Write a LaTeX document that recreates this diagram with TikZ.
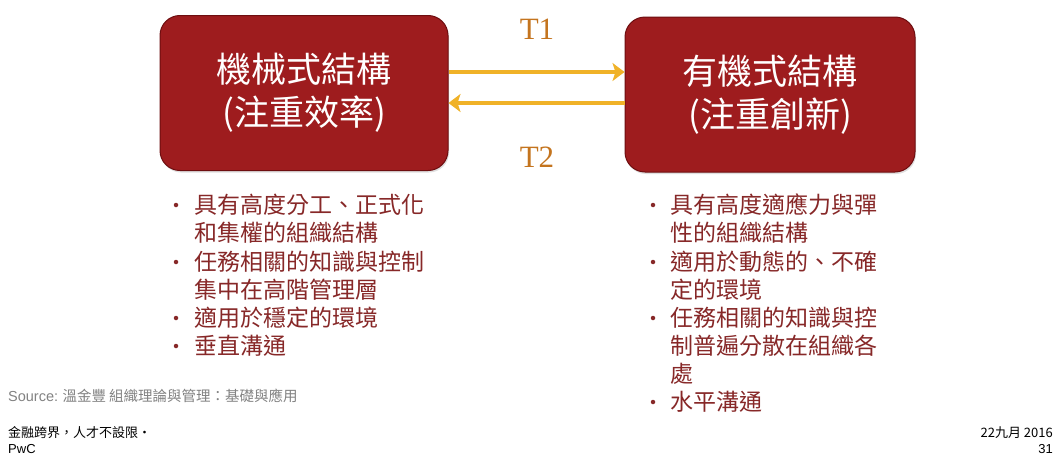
\documentclass[tikz,border=0pt]{standalone}
\usepackage{fontspec}
\setmainfont{Liberation Serif}
\newfontfamily\cjk{Noto Sans CJK TC}
\newfontfamily\sansf{Liberation Sans}
\usetikzlibrary{arrows.meta,shadows}
\definecolor{boxred}{RGB}{158,28,30}
\definecolor{boxedge}{RGB}{110,14,16}
\definecolor{arrowgold}{RGB}{240,178,40}
\definecolor{tcol}{RGB}{196,116,30}
\definecolor{txtred}{RGB}{135,40,40}
\definecolor{srcgray}{RGB}{130,130,130}
\tikzset{
  bigbox/.style={rounded corners=20pt,fill=boxred,draw=boxedge,line width=1pt,
    minimum width=#1,minimum height=155pt,inner sep=0pt,
    drop shadow={opacity=0.25,shadow xshift=1pt,shadow yshift=-2pt}},
  boxtxt/.style={text=white,font=\cjk\fontsize{35}{43}\selectfont,align=center},
  arr/.style={draw=arrowgold,line width=4.5pt,-{Stealth[length=12pt,width=18pt,inset=3pt]}},
  tlab/.style={text=tcol,font=\fontsize{31}{31}\selectfont},
  item/.style={anchor=west,text=txtred,font=\cjk\fontsize{23}{28}\selectfont,inner sep=0pt},
  dot/.style={circle,fill=txtred,inner sep=0pt,minimum size=4.5pt},
  foot/.style={anchor=west,inner sep=0pt,font=\cjk\fontsize{13}{15}\selectfont}
}
\begin{document}
\begin{tikzpicture}[x=1pt,y=-1pt]
\useasboundingbox[fill=white] (0,0) rectangle (1062,455);
\node[bigbox=288pt] (A) at (304,93) {};
\node[bigbox=290pt] (B) at (770,94.5) {};
\node[boxtxt] (At) at (A.center) {機械式結構\\(注重效率)};
\node[boxtxt] (Bt) at (B.center) {有機式結構\\(注重創新)};
\draw[arr] ([yshift=21pt]A.east) -- ([yshift=22.5pt]B.west);
\draw[arr] ([yshift=-8.5pt]B.west) -- ([yshift=-10pt]A.east);
\node[tlab] (T1) at (537,29) {T1};
\node[tlab] (T2) at (537,157) {T2};
% left list
\foreach \y/\t [count=\i] in {205/具有高度分工、正式化,233/和集權的組織結構,262/任務相關的知識與控制,290/集中在高階管理層,318/適用於穩定的環境,346/垂直溝通}
  \node[item] (L\i) at (194,\y) {\t};
\foreach \y [count=\i] in {205,262,318,346}
  \node[dot] (LD\i) at (176,\y) {};
% right list
\foreach \y/\t [count=\i] in {205/具有高度適應力與彈,233/性的組織結構,262/適用於動態的、不確,290/定的環境,318/任務相關的知識與控,346/制普遍分散在組織各,374/處,402/水平溝通}
  \node[item] (R\i) at (670,\y) {\t};
\foreach \y [count=\i] in {205,262,318,402}
  \node[dot] (RD\i) at (653,\y) {};
% footer
\node[foot,text=srcgray,font=\cjk\fontsize{14.5}{16}\selectfont] (src) at (8,396) {{\sansf Source:} 溫金豐 組織理論與管理：基礎與應用};
\node[foot] (f1) at (8,433) {金融跨界，人才不設限•};
\node[foot] (f2) at (8,449) {\sansf PwC};
\node[foot,anchor=east] (d1) at (1053,433) {22九月 2016};
\node[foot,anchor=east] (d2) at (1053,449) {\sansf 31};
\end{tikzpicture}
\end{document}
